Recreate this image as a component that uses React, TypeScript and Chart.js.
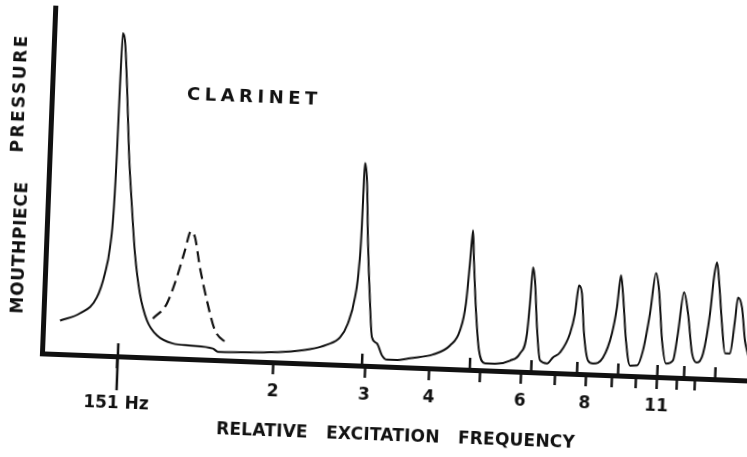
import React, { useEffect, useRef } from 'react';
import { Chart, registerables } from 'chart.js';

Chart.register(...registerables);

// Relative excitation frequency (x) and mouthpiece pressure (y, arbitrary units 0-100)
const solidFreq = [
  0.769, 0.839, 0.902, 0.931, 0.948, 0.958, 0.962, 0.964, 0.967, 0.978, 0.995, 1.015, 1.038, 1.06, 1.091,
  1.131, 1.185, 1.274, 1.375, 1.523, 1.558, 1.797, 2.08, 2.344, 2.525, 2.672, 2.762, 2.837, 2.873, 2.89,
  2.894, 2.899, 2.933, 2.976, 3.033, 3.08, 3.152, 3.229, 3.305, 3.501, 3.659, 4.05, 4.361, 4.547, 4.648,
  4.699, 4.736, 4.781, 4.865, 4.964, 5.11, 5.388, 5.707, 5.959, 6.126, 6.176, 6.221, 6.29, 6.397, 6.52,
  6.729, 6.903, 7.115, 7.414, 7.555, 7.653, 7.767, 7.889, 8.067, 8.252, 8.618, 8.932, 9.093, 9.206, 9.317,
  9.517, 9.729, 10.037, 10.28, 10.54, 10.75, 10.93, 11.17, 11.41, 11.77, 11.97, 12.21, 12.48, 12.79, 13.09,
  13.43, 13.76, 13.92, 14.07, 14.24, 14.53, 14.81, 15.14, 15.39, 15.53, 15.84, 16.14, 16.31, 16.6,
];
const solidPressure = [
  9.7, 12.0, 16.8, 23.8, 31.4, 43.0, 58.7, 77.9, 93.5, 91.5, 78.0, 58.9, 43.2, 30.0, 18.4,
  10.7, 6.5, 4.3, 3.9, 3.3, 2.4, 2.6, 3.1, 4.2, 5.7, 7.9, 12.1, 19.7, 28.4, 41.2,
  53.7, 58.6, 53.7, 36.3, 19.0, 8.3, 6.6, 3.2, 2.0, 2.1, 2.7, 4.0, 6.8, 11.3, 19.2,
  30.8, 40.4, 31.7, 17.2, 5.7, 2.0, 2.1, 3.1, 5.3, 11.2, 19.9, 30.3, 26.6, 13.0, 3.5,
  2.7, 4.5, 6.0, 11.6, 17.5, 25.6, 23.3, 11.8, 4.0, 3.2, 5.0, 12.1, 19.7, 29.0, 23.8,
  10.2, 3.0, 3.1, 7.5, 18.3, 30.0, 25.1, 10.6, 4.0, 5.0, 12.8, 24.8, 18.7, 7.2, 4.6,
  7.3, 19.0, 29.5, 33.8, 28.6, 16.2, 7.6, 7.6, 17.2, 23.9, 21.1, 11.5, 8.7, 5.0,
];

const dashedFreq = [1.161, 1.232, 1.282, 1.323, 1.354, 1.38, 1.418, 1.471, 1.532, 1.62];
const dashedPressure = [11.3, 15.8, 23.5, 31.4, 37.0, 35.3, 26.6, 17.1, 8.6, 4.9];

const xTickValues = [1, 2, 3, 4, 5, 6, 7, 8, 9, 10, 11, 12, 13];
const xTickLabels = ['151 Hz', '2', '3', '4', '', '6', '', '8', '', '', '11', '', ''];
const peakMarks = [2.96, 4.78, 6.28, 7.7, 9.24, 11, 12.39, 14.23];

const X_MIN = 0.7136;
const X_MAX = 17.72;
const Y_MIN = 0;
const Y_MAX = 100;

const chartTitle = 'CLARINET';
const yTitleWords = ['MOUTHPIECE', 'PRESSURE'];
const xTitle = 'RELATIVE   EXCITATION   FREQUENCY';

const INK = '#111';
const FONT = '"DejaVu Sans"';

const overlay = {
  id: 'overlay',
  afterDraw(chart: any) {
    const { ctx, chartArea: ca, scales } = chart;
    const xs = scales.x;
    ctx.save();
    ctx.strokeStyle = INK;
    ctx.lineWidth = 2.5;
    // long marker at the fundamental
    const p1 = xs.getPixelForValue(xTickValues[0]);
    ctx.beginPath();
    ctx.moveTo(p1, ca.bottom - 13);
    ctx.lineTo(p1, ca.bottom + 34);
    ctx.stroke();
    // resonance markers above the axis
    peakMarks.forEach((v) => {
      const p = xs.getPixelForValue(v);
      ctx.beginPath();
      ctx.moveTo(p, ca.bottom - 12);
      ctx.lineTo(p, ca.bottom);
      ctx.stroke();
    });

    ctx.fillStyle = INK;
    ctx.textBaseline = 'middle';

    // chart label
    ctx.font = `bold 18px ${FONT}`;
    (ctx as any).letterSpacing = '4.5px';
    ctx.textAlign = 'left';
    ctx.fillText(chartTitle, 182, 102);

    // y axis title (two words)
    ctx.font = `bold 17px ${FONT}`;
    ctx.textAlign = 'center';
    const yWordPos = [
      { x: 21.5, y: 261, ls: '0.7px' },
      { x: 15.6, y: 106.6, ls: '2.5px' },
    ];
    yTitleWords.forEach((w, i) => {
      ctx.save();
      (ctx as any).letterSpacing = yWordPos[i].ls;
      ctx.translate(yWordPos[i].x, yWordPos[i].y);
      ctx.rotate(-Math.PI / 2);
      ctx.fillText(w, 0, 0);
      ctx.restore();
    });

    // x axis title
    ctx.font = `bold 17px ${FONT}`;
    (ctx as any).letterSpacing = '0.2px';
    ctx.textAlign = 'center';
    ctx.fillText(xTitle, 403.5, 435.5);
    ctx.restore();
  },
};

export default function App() {
  const ref = useRef<HTMLCanvasElement>(null);

  useEffect(() => {
    document.documentElement.style.overflow = 'hidden';
    const chart = new Chart(ref.current as HTMLCanvasElement, {
      type: 'line',
      data: {
        datasets: [
          {
            label: 'Clarinet',
            data: solidFreq.map((f, i) => ({ x: f, y: solidPressure[i] })),
            borderColor: INK,
            borderWidth: 2,
            pointRadius: 0,
            fill: false,
            cubicInterpolationMode: 'monotone',
          },
          {
            label: 'Dashed',
            data: dashedFreq.map((f, i) => ({ x: f, y: dashedPressure[i] })),
            borderColor: INK,
            borderWidth: 2.2,
            borderDash: [11, 6],
            pointRadius: 0,
            fill: false,
            cubicInterpolationMode: 'monotone',
          },
        ],
      },
      options: {
        animation: false,
        responsive: false,
        devicePixelRatio: 1,
        layout: { padding: { left: 47, top: 20.5, right: 0, bottom: 0 } },
        plugins: { legend: { display: false }, tooltip: { enabled: false } },
        scales: {
          x: {
            type: 'logarithmic',
            min: X_MIN,
            max: X_MAX,
            bounds: 'data',
            afterBuildTicks: (s: any) => {
              s.ticks = xTickValues.map((v) => ({ value: v }));
            },
            afterFit: (s: any) => {
              s.height = 91;
              s.paddingLeft = 0;
              s.paddingRight = 0;
            },
            ticks: {
              autoSkip: false,
              maxRotation: 0,
              minRotation: 0,
              padding: 8,
              color: INK,
              font: { family: FONT, weight: 'bold', size: 17, lineHeight: 1.1 },
              callback: (v: any) => {
                const i = xTickValues.indexOf(Number(v));
                const l = i >= 0 ? xTickLabels[i] : '';
                return i === 0 ? ['', l] : l;
              },
            },
            grid: {
              display: true,
              drawOnChartArea: false,
              drawTicks: true,
              tickLength: 12,
              tickWidth: 2.5,
              tickColor: INK,
            },
            border: { display: true, width: 5, color: INK },
          },
          y: {
            min: Y_MIN,
            max: Y_MAX,
            afterFit: (s: any) => {
              s.width = 0;
              s.paddingTop = 0;
              s.paddingBottom = 0;
            },
            ticks: { display: false },
            grid: { display: false },
            border: { display: true, width: 5, color: INK },
          },
        },
      } as any,
      plugins: [overlay],
    });
    return () => chart.destroy();
  }, []);

  return (
    <div
      style={{
        position: 'fixed',
        left: 0,
        top: 0,
        width: 770,
        height: 457,
        transform: 'rotate(2.2deg)',
        transformOrigin: '373.5px 228.5px',
      }}
    >
      <canvas ref={ref} width={770} height={457} style={{ display: 'block', width: 770, height: 457 }} />
    </div>
  );
}
